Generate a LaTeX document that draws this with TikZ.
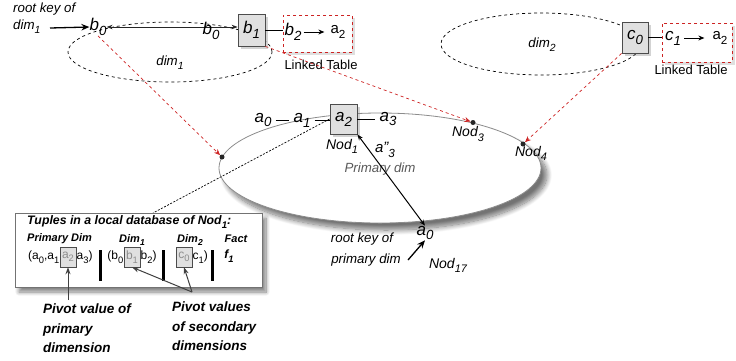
\documentclass[tikz,border=0pt]{standalone}
\usepackage{fontspec}
\setmainfont{Liberation Sans}
\usetikzlibrary{shapes.geometric,arrows.meta,shadows,shadows.blur}
\definecolor{rdash}{RGB}{205,35,35}
\newcommand{\sbs}[1]{\raisebox{-0.55ex}{\scalebox{0.78}{#1}}}
\begin{document}
\begin{tikzpicture}[x=1pt,y=-1pt,
  txt/.style={font=\fontsize{13.3}{15}\selectfont\itshape, inner sep=0pt},
  big/.style={font=\fontsize{17}{19}\selectfont\itshape, inner sep=0pt},
  mid/.style={font=\fontsize{15}{17}\selectfont, inner sep=0pt},
  keybox/.style={draw=black!70, fill=black!12, line width=0.8pt, inner sep=0pt,
    drop shadow={opacity=0.35, shadow xshift=2.5pt, shadow yshift=-2.5pt}},
  linked/.style={draw=rdash, dashed, line width=0.8pt, fill=white,
    drop shadow={opacity=0.25, shadow xshift=2.5pt, shadow yshift=-2.5pt}},
  reddash/.style={rdash, dashed, line width=0.7pt, -{Stealth[length=6pt,width=5pt]}},
  dot/.style={circle, fill=black!85, inner sep=0pt, minimum size=5pt},
  thickarrow/.style={line width=1.3pt, -{Stealth[length=8pt,width=6.5pt]}},
  dblarrow/.style={line width=0.9pt, {Stealth[length=6pt,width=4.5pt]}-{Stealth[length=6pt,width=4.5pt]}},
  pivotbox/.style={draw=black!70, fill=black!12, inner sep=0pt, minimum width=16pt,
    minimum height=20pt, text=black!45, font=\fontsize{12}{14}\selectfont},
  rowt/.style={font=\fontsize{12}{14}\selectfont, inner sep=0.3pt},
  hdr/.style={font=\fontsize{11}{13}\selectfont\bfseries\itshape, inner sep=0pt},
  blt/.style={font=\fontsize{13.5}{16}\selectfont\bfseries\itshape, inner sep=0pt, anchor=base west},
  bar/.style={line width=3pt},
  parrow/.style={black!75, line width=1pt, -{Stealth[length=7pt,width=5pt]}},
]
\useasboundingbox (0,0) rectangle (736,360);

% ---------- secondary dimension ellipses
\node[ellipse, draw, dashed, line width=0.7pt, minimum width=204pt, minimum height=60pt] (dim1) at (170,52) {};
\node[txt] (dim1l) at (170,63) {dim\sbs{1}};
\node[ellipse, draw, dashed, line width=0.7pt, minimum width=200pt, minimum height=62pt] (dim2) at (541,44) {};
\node[txt] (dim2l) at (542,45) {dim\sbs{2}};

% ---------- primary ellipse
\node[ellipse, draw=black!45, fill=white, line width=0.8pt, minimum width=322pt, minimum height=110pt,
  blur shadow={shadow xshift=6pt, shadow yshift=-7pt, shadow blur radius=5pt, shadow blur steps=12, shadow opacity=55}] (prim) at (380,168) {};

% ---------- dim1 part
\node[txt, anchor=west] (rk1) at (13,9) {root key of};
\node[txt, anchor=west] (rk1b) at (13,27) {dim\sbs{1}};
\coordinate (rk1s) at (50,28);
\node[big] (b0) at (98,27) {b\sbs{0}};
\draw[thickarrow] (rk1s) -- (b0.west);
\node[keybox, big, minimum width=27pt, minimum height=32pt] (b1) at (251.5,30) {b\sbs{1}};
\draw[dblarrow, black!85] (b0.east) -- (b0.east -| b1.west);
\node[big] (b0r) at (211,31) {b\sbs{0}};
\node[linked, minimum width=69pt, minimum height=37pt] (lt1) at (317.5,33.5) {};
\node[big] (b2) at (293,32) {b\sbs{2}};
\node[mid] (a2l) at (338,32) {a\sbs{2}};
\draw[line width=1pt, -{Stealth[length=6pt,width=5pt]}, shorten <=2pt, shorten >=6pt] (b2.east) -- (a2l.west);
\draw[line width=0.8pt] (b1.east) -- (b1.east -| lt1.west);
\node[font=\fontsize{13}{15}\selectfont, inner sep=0pt] (ltl1) at (321,65) {Linked Table};

% ---------- dim2 part
\node[keybox, big, minimum width=26pt, minimum height=31pt] (c0) at (635,37.5) {c\sbs{0}};
\node[linked, minimum width=70pt, minimum height=39pt] (lt2) at (697,42.5) {};
\node[big] (c1) at (673,38) {c\sbs{1}};
\node[mid] (a2m) at (720,38) {a\sbs{2}};
\draw[line width=1pt, -{Stealth[length=6pt,width=5pt]}, shorten <=3pt, shorten >=8pt] (c1.east) -- (a2m.west);
\draw[line width=0.8pt] (c0.east) -- (c0.east -| lt2.west);
\node[font=\fontsize{13}{15}\selectfont, inner sep=0pt] (ltl2) at (691,70) {Linked Table};

% ---------- primary dimension
\node[keybox, big, minimum width=27pt, minimum height=30pt] (pa2) at (343.5,119) {a\sbs{2}};
\node[big] (pa0) at (263,120) {a\sbs{0}};
\node[big] (pa1) at (302,120) {a\sbs{1}};
\node[big] (pa3) at (388,119) {a\sbs{3}};
\draw[line width=0.9pt, shorten <=4pt, shorten >=4pt] (pa0.east) -- (pa1.west);
\draw[line width=0.9pt, shorten <=4pt] (pa1.east) -- (pa1.east -| pa2.west);
\draw[line width=0.9pt, shorten >=4pt] (pa2.east) -- (pa2.east -| pa3.west);
\node[txt, font=\fontsize{14}{16}\selectfont\itshape] (nod1) at (342,146) {Nod\sbs{1}};
\node[txt, font=\fontsize{15}{17}\selectfont\itshape] (a3pp) at (385,150) {a"\sbs{3}};
\node[txt, text=black!65] (primdim) at (380,169) {Primary dim};

\node[big] (ra0) at (425,233) {a\sbs{0}};
\draw[dblarrow, line width=1pt] (ra0.north) -- (pa2.south east);
\node[txt, font=\fontsize{14}{16}\selectfont\itshape] (nod17) at (448,265) {Nod\sbs{17}};
\node[txt] (rk2) at (362,239) {root key of};
\node[txt] (rk2b) at (366,260) {primary dim};
\coordinate (rk2s) at (408,260);
\draw[thickarrow] (rk2s) -- (ra0.south);

% ---------- nodes on the ring
\node[dot] (d1) at (222,157) {};
\node[dot] (d3) at (473,122.5) {};
\node[dot] (d4) at (523,144) {};
\node[txt, font=\fontsize{14}{16}\selectfont\itshape] (nod3) at (468,134) {Nod\sbs{3}};
\node[txt, font=\fontsize{14}{16}\selectfont\itshape] (nod4) at (531,153) {Nod\sbs{4}};
\draw[reddash] (b0.south) -- (d1);
\draw[reddash] (b1.south east) -- (d3);
\draw[reddash] (c0.south west) -- (d4);

% ---------- table of tuples
\coordinate (tt) at (153,213);
\draw[line width=0.7pt, dash pattern=on 2pt off 1.5pt] (pa2.west) -- (tt);
\node[draw=black!55, fill=white, line width=0.7pt, minimum width=247pt, minimum height=74pt,
  blur shadow={shadow xshift=4pt, shadow yshift=-5pt, shadow blur radius=4pt, shadow blur steps=10, shadow opacity=50}] (tab) at (138.5,250) {};
\node[font=\fontsize{12.3}{14}\selectfont\bfseries\itshape, anchor=west, inner sep=0pt] (ttl) at (27,222) {Tuples in a local database of Nod\sbs{1}:};
\node[hdr, anchor=west] (h1) at (27,239) {Primary Dim};
\node[hdr] (h2) at (132,240) {Dim\sbs{1}};
\node[hdr] (h3) at (190,240) {Dim\sbs{2}};
\node[hdr] (h4) at (236,239) {Fact};

\node[pivotbox] (pva) at (68,257) {a\sbs{2}};
\node[rowt, anchor=east] (ra) at (pva.west) {(a\sbs{0},a\sbs{1}};
\node[rowt, anchor=west] (rb) at (pva.east) {a\sbs{3})};
\node[pivotbox] (pvb) at (132,257) {b\sbs{1}};
\node[rowt, anchor=east] (rc) at (pvb.west) {(b\sbs{0}};
\node[rowt, anchor=west] (rd) at (pvb.east) {b\sbs{2})};
\node[pivotbox] (pvc) at (184,257) {c\sbs{0}};
\node[rowt, anchor=west] (re) at (pvc.east) {c\sbs{1})};
\node[hdr, font=\fontsize{12}{14}\selectfont\bfseries\itshape] (f1) at (229,256) {f\sbs{1}};
\draw[bar] (100,250) -- (100,281);
\draw[bar] (163,250) -- (163,281);
\draw[bar] (212,250) -- (212,281);

% ---------- pivot annotations
\node[blt] (pl1) at (43,313) {Pivot value of};
\node[blt] (pl2) at (43,333) {primary};
\node[blt] (pl3) at (43,352) {dimension};
\node[blt] (pr1) at (172,311) {Pivot values};
\node[blt] (pr2) at (172,331) {of secondary};
\node[blt] (pr3) at (172,350) {dimensions};
\coordinate (pv1s) at (68,300);
\coordinate (pv2s) at (192,292);
\draw[parrow] (pv1s) -- (pva.south);
\draw[parrow] (pv2s) -- (pvb.south);
\draw[parrow] (pv2s) -- (pvc.south);
\end{tikzpicture}
\end{document}
